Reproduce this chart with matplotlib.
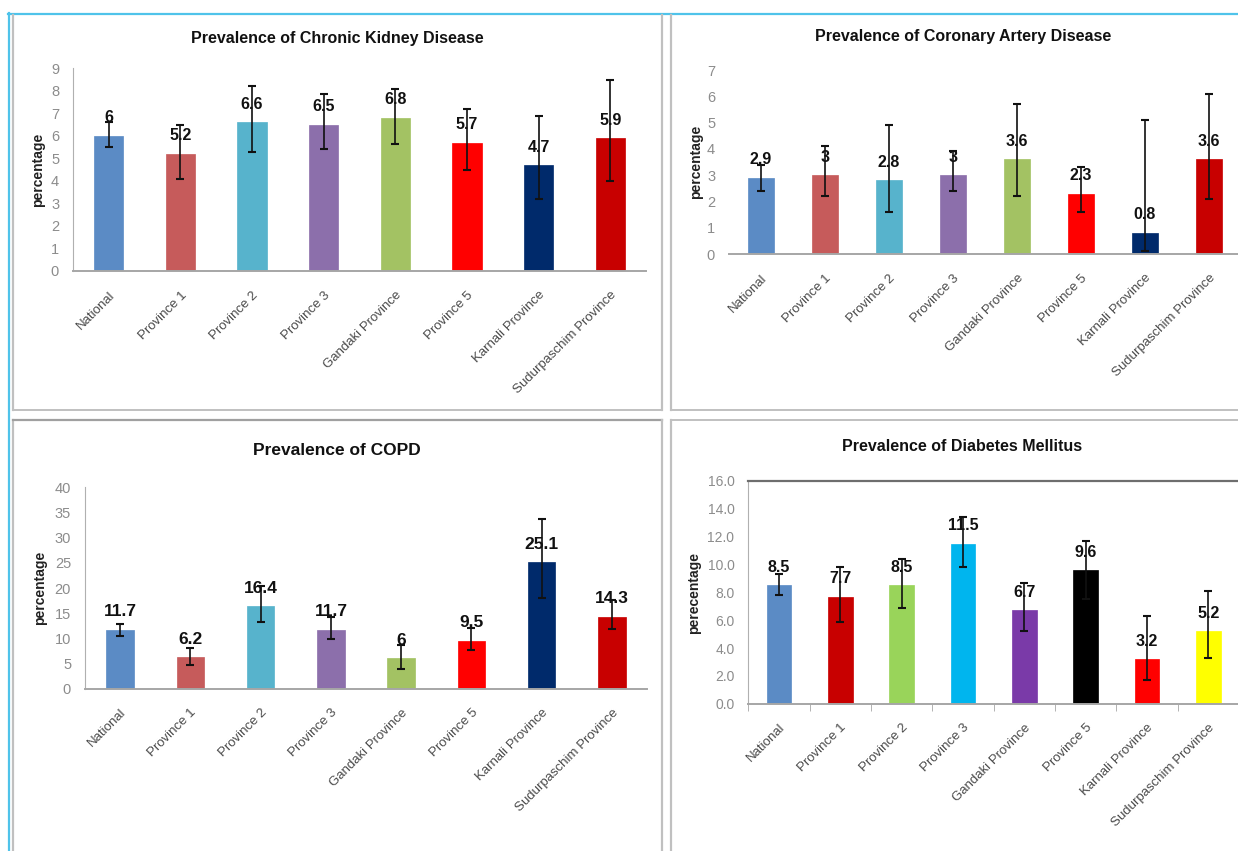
import matplotlib
matplotlib.use("Agg")
import matplotlib.pyplot as plt
from matplotlib.lines import Line2D
import numpy as np

W, H = 1238, 851
plt.rcParams['font.family'] = ['Liberation Sans', 'DejaVu Sans']

categories = ["National", "Province 1", "Province 2", "Province 3",
              "Gandaki Province", "Province 5", "Karnali Province",
              "Sudurpaschim Province"]

ckd = [6, 5.2, 6.6, 6.5, 6.8, 5.7, 4.7, 5.9]
ckd_lo = [5.5, 4.1, 5.3, 5.4, 5.65, 4.5, 3.2, 4.0]
ckd_hi = [6.6, 6.5, 8.2, 7.85, 8.1, 7.2, 6.9, 8.5]

cad = [2.9, 3, 2.8, 3, 3.6, 2.3, 0.8, 3.6]
cad_lo = [2.4, 2.2, 1.6, 2.4, 2.2, 1.6, 0.1, 2.1]
cad_hi = [3.4, 4.1, 4.9, 3.9, 5.7, 3.3, 5.1, 6.1]

copd = [11.7, 6.2, 16.4, 11.7, 6, 9.5, 25.1, 14.3]
copd_lo = [10.5, 4.8, 13.2, 9.8, 4.0, 7.6, 18.1, 11.9]
copd_hi = [12.9, 8.1, 20.4, 14.3, 8.7, 12.0, 33.8, 17.6]

dm = [8.5, 7.7, 8.5, 11.5, 6.7, 9.6, 3.2, 5.2]
dm_lo = [7.8, 5.9, 6.9, 9.8, 5.2, 7.5, 1.7, 3.3]
dm_hi = [9.3, 9.8, 10.4, 13.4, 8.7, 11.7, 6.3, 8.1]

colors_a = ["#5B8BC5", "#C65B5B", "#57B3CC", "#8C6FAB", "#A3C263",
            "#FF0000", "#002A6B", "#C80000"]
colors_b = ["#5B8BC5", "#C80000", "#99D45A", "#00B5EE", "#7A3AA8",
            "#000000", "#FF0000", "#FFFF00"]

fig = plt.figure(figsize=(W / 100, H / 100), dpi=100)


def rect(x0, ytop, x1, ybot):
    return [x0 / W, 1 - ybot / H, (x1 - x0) / W, (ybot - ytop) / H]


def hline(y, x0, x1, color, lw):
    fig.add_artist(Line2D([x0 / W, x1 / W], [1 - y / H, 1 - y / H],
                          color=color, lw=lw, transform=fig.transFigure))


def vline(x, y0, y1, color, lw):
    fig.add_artist(Line2D([x / W, x / W], [1 - y0 / H, 1 - y1 / H],
                          color=color, lw=lw, transform=fig.transFigure))


# frames
blue = "#4FC3EA"
gray = "#C0C0C0"
hline(13.5, 8, W, blue, 1.6)
vline(8.5, 13, H, blue, 1.6)
vline(13, 15, 410, gray, 1.6)
vline(13, 420, H, gray, 1.6)
hline(410, 13, 662, gray, 1.4)
hline(420, 13, 662, "#A0A0A0", 1.6)
vline(662, 15, 410, gray, 1.6)
vline(662, 420, H, gray, 1.6)
vline(671, 15, 410, gray, 1.6)
vline(671, 420, H, gray, 1.6)
hline(410, 671, W, gray, 1.4)
hline(420, 671, W, gray, 1.4)


def panel(r, vals, lo, hi, colors, ymax, ystep, title, title_xy, ylabel,
          ylabel_xy, width, yfmt="{:g}", yaxis_line=True, topline=False,
          xticks_minor=False, vfs=11.5, tfs=11.5, ytfs=10.5):
    ax = fig.add_axes(rect(*r))
    x = np.arange(len(vals))
    v = np.array(vals)
    yerr = [v - np.array(lo), np.array(hi) - v]
    ax.bar(x, v, width=width, color=colors, edgecolor=colors, lw=0.5,
           zorder=2)
    ax.errorbar(x, v, yerr=yerr, fmt='none', ecolor='#111111',
                elinewidth=1.2, capsize=3, capthick=1.5, zorder=3)
    for xi, vi in zip(x, vals):
        ax.annotate(f"{vi:g}", (xi, vi), xytext=(0, 13),
                    textcoords='offset points', ha='center', va='center',
                    fontsize=vfs, fontweight='bold', color='#111111',
                    zorder=4)
    ax.set_xlim(-0.5, len(vals) - 0.5)
    ax.set_ylim(0, ymax)
    ticks = np.arange(0, ymax + ystep / 2, ystep)
    ax.set_yticks(ticks)
    ax.set_yticklabels([yfmt.format(t) for t in ticks], color='#8C8C8C',
                       fontsize=ytfs)
    ax.tick_params(axis='y', length=0, pad=10)
    ax.set_xticks(x)
    ax.set_xticklabels(categories, rotation=45, ha='right',
                       rotation_mode='anchor', fontsize=9.5,
                       color='#4A4A4A')
    ax.tick_params(axis='x', length=0, pad=13)
    for s in ['top', 'right']:
        ax.spines[s].set_visible(False)
    ax.spines['left'].set_visible(yaxis_line)
    ax.spines['left'].set_color('#B0B0B0')
    ax.spines['bottom'].set_color('#A6A6A6')
    ax.spines['bottom'].set_linewidth(1.4)
    if topline:
        ax.spines['top'].set_visible(True)
        ax.spines['top'].set_color('#6E6E6E')
        ax.spines['top'].set_linewidth(1.6)
    if xticks_minor:
        ax.set_xticks(np.arange(-0.5, len(vals) - 0.4, 1), minor=True)
        ax.tick_params(axis='x', which='minor', length=5, color='#A6A6A6',
                       direction='out')
    ax.set_facecolor('none')
    fig.text(title_xy[0] / W, 1 - title_xy[1] / H, title, ha='center',
             va='center', fontsize=tfs, fontweight='bold', color='#111111')
    fig.text(ylabel_xy[0] / W, 1 - ylabel_xy[1] / H, ylabel, ha='center',
             va='center', rotation=90, fontsize=10, fontweight='bold',
             color='#222222')
    return ax


panel((73, 68.3, 646, 271), ckd, ckd_lo, ckd_hi, colors_a, 9, 1,
      "Prevalence of Chronic Kidney Disease", (337, 38), "percentage",
      (38, 170), 0.41)
panel((729, 70, 1241, 254), cad, cad_lo, cad_hi, colors_a, 7, 1,
      "Prevalence of Coronary Artery Disease", (963, 37), "percentage",
      (696, 162), 0.41, yaxis_line=False)
panel((85, 487.3, 647, 688.7), copd, copd_lo, copd_hi, colors_a, 40, 5,
      "Prevalence of COPD", (337, 450), "percentage", (40, 588), 0.39,
      vfs=12.5, tfs=12.5)
panel((748.3, 481, 1239, 703.7), dm, dm_lo, dm_hi, colors_b, 16, 2,
      "Prevalence of Diabetes Mellitus", (962, 447), "perecentage",
      (694, 593), 0.40, yfmt="{:.1f}", topline=True, xticks_minor=True,
      ytfs=10)

fig.savefig("out.png", dpi=100)
